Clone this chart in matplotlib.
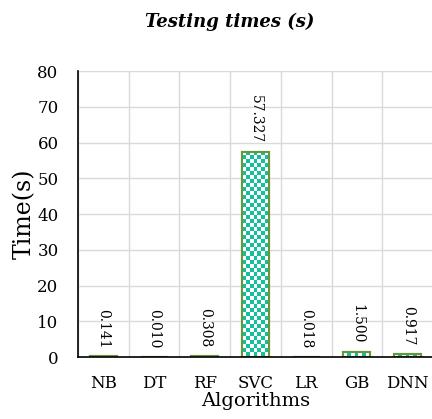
import numpy as np
import matplotlib
matplotlib.use('Agg')
import matplotlib.pyplot as plt

# testing times per algorithm
algorithms = ['NB', 'DT', 'RF', 'SVC', 'LR', 'GB', 'DNN']
times = [0.141, 0.010, 0.308, 57.327, 0.018, 1.500, 0.917]
labels = ['0.141', '0.010', '0.308', '57.327', '0.018', '1.500', '0.917']
yticks = [0, 10, 20, 30, 40, 50, 60, 70, 80]

teal = '#14bf9c'
edge = '#67963c'
serif = ['DejaVu Serif']

fig = plt.figure(figsize=(4.32, 4.19), dpi=100)
ax = fig.add_axes([78 / 432, 62 / 419, 355 / 432, 286 / 419])

x = np.arange(len(algorithms))
bars = ax.bar(x, times, width=0.53, color='white', edgecolor=edge, linewidth=1.5, zorder=3)

ax.set_xlim(-0.5, 6.5)
ax.set_ylim(0, 80)
ax.set_yticks(yticks)
ax.set_xticks(x)
ax.set_xticklabels(algorithms, fontsize=12, family=serif)
ax.set_yticklabels([str(v) for v in yticks], fontsize=12, family=serif)
ax.tick_params(axis='y', length=0, pad=14)
ax.tick_params(axis='x', length=0, pad=13)

# grid: horizontal at ticks, vertical between categories
ax.set_xticks(np.arange(-0.5, 7.0, 1.0), minor=True)
ax.grid(True, axis='y', color='#d9d9d9', linewidth=1, zorder=0)
ax.grid(True, axis='x', which='minor', color='#d9d9d9', linewidth=1, zorder=0)
ax.tick_params(which='minor', length=0)

for s in ['top', 'right']:
    ax.spines[s].set_visible(False)
for s in ['left', 'bottom']:
    ax.spines[s].set_color('black')
    ax.spines[s].set_linewidth(1.2)
    ax.spines[s].set_zorder(5)

ax.set_ylabel('Time(s)', fontsize=17, family=serif, labelpad=1)
ax.set_xlabel('Algorithms', fontsize=14, family=serif, labelpad=0)
fig.text(230 / 432, 1 - 22 / 419, 'Testing times (s)', ha='center', va='center',
         fontsize=13, fontweight='bold', style='italic', family=serif)

# checkerboard fill clipped to each bar
fig.canvas.draw()
cell = 4.0
for b in bars:
    bb = b.get_window_extent()
    nx = max(1, int(round(bb.width / cell)))
    ny = max(1, int(round(bb.height / cell)))
    board = (np.add.outer(np.arange(ny), np.arange(nx)) % 2).astype(float)
    x0, y0 = b.get_x(), b.get_y()
    x1, y1 = x0 + b.get_width(), y0 + b.get_height()
    # extent in data coords, top row anchored at bar top
    h_data = ny * cell * (80 / ax.get_window_extent().height)
    img = ax.imshow(board, cmap=matplotlib.colors.ListedColormap(['white', teal]),
                    extent=[x0, x1, y1 - h_data, y1], origin='upper',
                    interpolation='nearest', aspect='auto', zorder=3.5)
    img.set_clip_path(b)
    outline = plt.Rectangle((x0, y0), b.get_width(), b.get_height(), fill=False,
                            edgecolor=edge, linewidth=1.5, zorder=4)
    ax.add_patch(outline)
ax.set_xlim(-0.5, 6.5)
ax.set_ylim(0, 80)
ax.set_aspect('auto')

for xi, v, lab in zip(x, times, labels):
    ax.annotate(lab, (xi, v), xytext=(0, 6), textcoords='offset points',
                rotation=270, ha='center', va='bottom', fontsize=10, family=serif, zorder=6)

fig.savefig('out.png', dpi=100)
